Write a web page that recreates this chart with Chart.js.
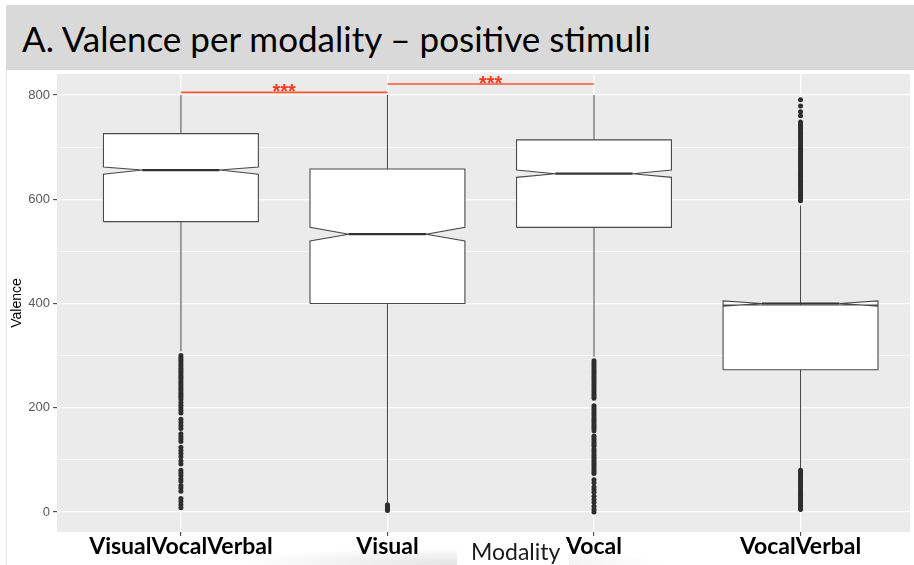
<!DOCTYPE html>
<html>
<head>
<meta charset="utf-8">
<script src="https://cdn.jsdelivr.net/npm/chart.js@4.4.1/dist/chart.umd.min.js"></script>
<style>
body { margin:0; width:914px; height:565px; background:#fff; position:relative; overflow:hidden; font-family:Lato, sans-serif; }
#head { position:absolute; left:6px; top:5px; width:908px; height:65px; background:#D9D9D9; }
#title { position:absolute; left:22px; top:21px; font-size:35px; line-height:35px; color:#000; white-space:nowrap; }
#edge { position:absolute; left:6px; top:70px; width:1px; height:495px; background:#e4e4e4; }
#shade { position:absolute; left:230px; top:548px; width:440px; height:30px; background:radial-gradient(ellipse at center, rgba(0,0,0,0.10), rgba(0,0,0,0) 70%); }
#wrap { position:absolute; left:0; top:0; width:914px; height:565px; }
#xlab { position:absolute; left:457px; top:543px; width:112px; height:22px; background:#fff; }
#xlab span { position:absolute; left:14px; top:-3px; font-size:23px; line-height:23px; color:#1a1a1a; white-space:nowrap; }
</style>
</head>
<body>
<div id="head"></div>
<div id="title">A. Valence per modality – positive stimuli</div>
<div id="edge"></div>
<div id="shade"></div>
<div id="wrap"><canvas id="grab"></canvas></div>
<div id="xlab"><span>Modality</span></div>
<script>
const categories = ["VisualVocalVerbal", "Visual", "Vocal", "VocalVerbal"];

// box stats
const q1 = [557, 400, 546, 273];
const median = [656, 533, 649, 400];
const q3 = [726, 658, 714, 397];
const notchLo = [648, 520, 642, 395];
const notchHi = [662, 546, 656, 405];
const whiskerLow = [308, 18, 298, 84];
const whiskerHigh = [800, 800, 800, 588];

const outVisualVocalVerbal = [300, 296, 292, 288, 284, 280, 276, 272, 268, 264, 260, 256, 252, 248, 244, 240, 236, 232, 228, 224, 220, 216,
  210, 205, 200, 195, 190, 178, 172, 166, 160, 150, 145, 140, 135, 124, 118, 112, 106, 98, 92, 80, 75, 70, 64, 59, 51, 46, 40, 26, 20, 14, 8];
const outVisual = [14, 10, 6, 3];
const outVocal = [290, 286, 282, 278, 274, 270, 266, 262, 258, 254, 250, 246, 242, 238, 234, 230, 226, 222, 218,
  204, 200, 196, 192, 188, 184, 180, 176, 172, 168, 164, 160, 156, 146, 142, 138, 134, 130, 126,
  121, 117, 113, 109, 105, 101, 97, 93, 89, 85, 81, 77, 74, 62, 56, 48, 43, 38, 30, 24, 18, 11, 5, 0];
const outVocalVerbal = [791, 779, 768, 760, 748, 744, 740, 736, 732, 728, 724, 720, 716, 712, 708, 704, 700, 696, 692, 688, 684, 680,
  676, 672, 668, 664, 660, 656, 652, 648, 644, 640, 636, 632, 628, 624, 620, 616, 612, 608, 604, 600, 597,
  80, 76, 72, 68, 64, 60, 56, 52, 48, 44, 40, 36, 32, 28, 24, 20, 16, 12, 8, 5];
const outliers = [outVisualVocalVerbal, outVisual, outVocal, outVocalVerbal];

// significance brackets
const sigFrom = [1, 2];
const sigTo = [2, 3];
const sigLevel = [805, 821];
const sigLabel = ["***", "***"];

const boxHalf = 0.375;
const sigColor = "#FF5733";

const boxOutline = (i) => {
  const c = i + 1, l = c - boxHalf, r = c + boxHalf, n = boxHalf / 2;
  return [
    {x: l, y: q1[i]}, {x: l, y: notchLo[i]}, {x: c - n, y: median[i]}, {x: l, y: notchHi[i]}, {x: l, y: q3[i]},
    {x: r, y: q3[i]}, {x: r, y: notchHi[i]}, {x: c + n, y: median[i]}, {x: r, y: notchLo[i]}, {x: r, y: q1[i]}, {x: l, y: q1[i]}
  ];
};

const whiskerPts = [];
const medianPts = [];
const outlierPts = [];
categories.forEach((cat, i) => {
  whiskerPts.push({x: i + 1, y: q3[i]}, {x: i + 1, y: whiskerHigh[i]}, {x: i + 1, y: null},
                  {x: i + 1, y: whiskerLow[i]}, {x: i + 1, y: q1[i]}, {x: i + 1, y: null});
  medianPts.push({x: i + 1 - boxHalf / 2, y: median[i]}, {x: i + 1 + boxHalf / 2, y: median[i]}, {x: i + 1, y: null});
  outliers[i].forEach(v => outlierPts.push({x: i + 1, y: v}));
});

const sigPts = [];
sigLevel.forEach((lv, i) => {
  sigPts.push({x: sigFrom[i], y: lv}, {x: sigTo[i], y: lv}, {x: sigTo[i], y: null});
});

const panelBg = {
  id: "panelBg",
  beforeDraw(chart) {
    const {ctx, chartArea: a} = chart;
    ctx.save();
    ctx.fillStyle = "#EBEBEB";
    ctx.fillRect(a.left, a.top, a.right - a.left, a.bottom - a.top);
    ctx.restore();
  }
};

const sigStars = {
  id: "sigStars",
  afterDatasetsDraw(chart) {
    const {ctx, scales: {x, y}} = chart;
    ctx.save();
    ctx.fillStyle = "#F23A1E";
    ctx.font = 'bold 20px "Liberation Sans"';
    ctx.textAlign = "center";
    ctx.textBaseline = "alphabetic";
    sigLevel.forEach((lv, i) => {
      const px = (x.getPixelForValue(sigFrom[i]) + x.getPixelForValue(sigTo[i])) / 2;
      ctx.fillText(sigLabel[i], px, y.getPixelForValue(lv) + 6);
    });
    ctx.restore();
  }
};

const boxSets = categories.map((cat, i) => ({
  type: "line",
  label: cat,
  data: boxOutline(i),
  borderColor: "#4a4a4a",
  borderWidth: 1.1,
  backgroundColor: "#ffffff",
  fill: "shape",
  pointRadius: 0,
  tension: 0
}));

const grph = document.querySelector("#grab");
const man = new Chart(grph, {
  type: "scatter",
  data: {
    datasets: [
      {type: "line", data: sigPts, borderColor: sigColor, borderWidth: 1.6, pointRadius: 0, fill: false},
      {type: "scatter", data: outlierPts, pointRadius: 2.5, backgroundColor: "#2e2e2e", borderWidth: 0},
      {type: "line", data: medianPts, borderColor: "#333333", borderWidth: 2.2, pointRadius: 0, fill: false},
      ...boxSets,
      {type: "line", data: whiskerPts, borderColor: "#444444", borderWidth: 1, pointRadius: 0, fill: false}
    ]
  },
  options: {
    responsive: true,
    maintainAspectRatio: false,
    animation: false,
    layout: {padding: {top: 74, left: 0, right: 0, bottom: 0}},
    plugins: {legend: {display: false}, tooltip: {enabled: false}},
    scales: {
      x: {
        type: "linear",
        min: 0.4,
        max: 4.53,
        afterBuildTicks: (a) => { a.ticks = categories.map((c, i) => ({value: i + 1})); },
        afterFit: (a) => { a.height = 33; },
        border: {display: false},
        grid: {color: "#ffffff", lineWidth: 1.3, tickColor: "#333333", tickLength: 4, tickWidth: 1},
        ticks: {
          callback: (v) => categories[v - 1],
          color: "#000",
          font: {family: "Lato", weight: "bold", size: 23},
          padding: -3,
          maxRotation: 0,
          autoSkip: false
        }
      },
      y: {
        min: -38.4,
        max: 840.3,
        afterFit: (a) => { a.width = 57; },
        border: {display: false},
        grid: {
          color: "#ffffff",
          lineWidth: (c) => (c.tick && c.tick.value % 200 === 0 ? 1.3 : 0.6),
          tickColor: (c) => (c.tick && c.tick.value % 200 === 0 ? "#333333" : "rgba(0,0,0,0)"),
          tickLength: 4,
          tickWidth: 1
        },
        ticks: {
          stepSize: 100,
          includeBounds: false,
          callback: (v) => (v % 200 === 0 ? v : ""),
          color: "#5a5a5a",
          font: {family: "Liberation Sans", size: 13},
          padding: 3
        },
        title: {display: true, text: "Valence", color: "#000", font: {family: "Liberation Sans", size: 14}, padding: {top: 9, bottom: 0}}
      }
    }
  },
  plugins: [panelBg, sigStars]
});
</script>
</body>
</html>
